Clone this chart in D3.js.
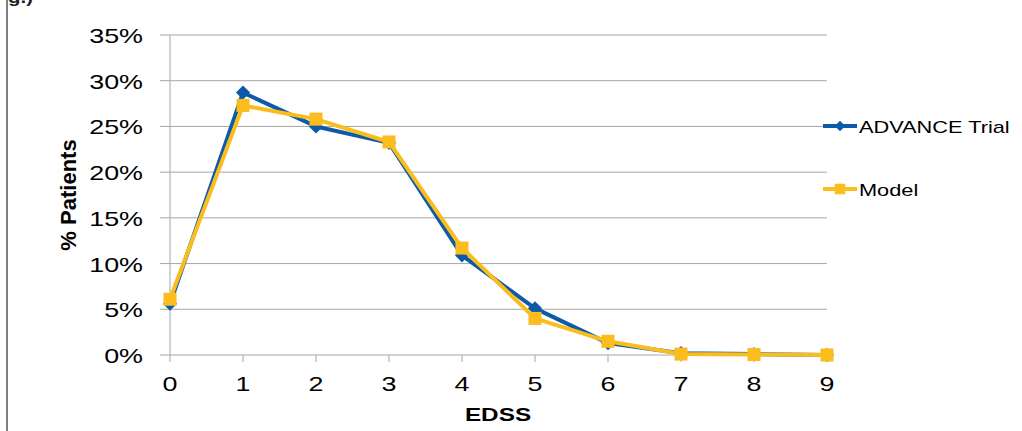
<!DOCTYPE html>
<html><head><meta charset="utf-8">
<script src="https://cdn.jsdelivr.net/npm/d3@7"></script>
<style>body{margin:0;background:#fff;}svg{display:block;font-family:"Liberation Sans",Arial,sans-serif;}</style>
</head><body>
<svg id="c" width="1022" height="431"></svg>
<script>
const categories = [0,1,2,3,4,5,6,7,8,9];
const advance = [5.6, 28.7, 25.0, 23.2, 10.9, 5.1, 1.3, 0.2, 0.1, 0.0];
const model   = [6.1, 27.3, 25.8, 23.3, 11.7, 4.0, 1.5, 0.1, 0.05, 0.0];
const yTicks = [0,5,10,15,20,25,30,35];
const seriesNames = ["ADVANCE Trial","Model"];
const colors = ["#0c5ba9","#fbbd1e"];

const SX = 1.28; // horizontal stretch of the original image text
const svg = d3.select("#c");
const x = d3.scaleLinear().domain([0,9]).range([170,827]);
const y = d3.scaleLinear().domain([0,35]).range([355,35]);

function stext(g, tx, ty, str, size, anchor, weight){
  return g.append("text").attr("transform",`translate(${tx},${ty}) scale(${SX},1)`)
    .attr("text-anchor",anchor).attr("font-size",size).attr("font-weight",weight||"normal").attr("fill","#000").text(str);
}

// left border line
svg.append("line").attr("x1",7).attr("x2",7).attr("y1",0).attr("y2",431).attr("stroke","#555").attr("stroke-width",1.5);
stext(svg, 8, 3, "g.)", 16, "start", "bold").attr("fill","#222");

// gridlines
svg.append("g").selectAll("line").data(yTicks).join("line")
  .attr("x1",160).attr("x2",827).attr("y1",d=>y(d)).attr("y2",d=>y(d))
  .attr("stroke","#a6a6a6").attr("stroke-width",1);
svg.append("line").attr("x1",170).attr("x2",170).attr("y1",y(35)).attr("y2",y(0)).attr("stroke","#a6a6a6");
svg.append("g").selectAll("line").data(categories).join("line")
  .attr("x1",d=>x(d)).attr("x2",d=>x(d)).attr("y1",355).attr("y2",362).attr("stroke","#a6a6a6");

// y labels
const gy = svg.append("g");
yTicks.forEach(d=>stext(gy, 143, y(d)+8, d+"%", 21, "end"));
// x labels
const gx = svg.append("g");
categories.forEach(d=>stext(gx, x(d), 391, String(d), 21, "middle"));

stext(svg, 498, 421, "EDSS", 19, "middle", "bold");
svg.append("text").attr("transform","translate(76,195) rotate(-90)").attr("text-anchor","middle").attr("font-size",22).attr("font-weight","bold").text("% Patients");

const line = d3.line().x((d,i)=>x(categories[i])).y(d=>y(d));
const data = [advance, model];
const diamondPath = s => d3.symbol().type(d3.symbolSquare).size(s)();

data.forEach((vals,k)=>{
  svg.append("path").attr("d",line(vals)).attr("fill","none").attr("stroke",colors[k]).attr("stroke-width",4).attr("stroke-linejoin","round");
  svg.append("g").selectAll("path").data(vals).join("path")
    .attr("transform",(d,i)=>`translate(${x(categories[i])},${y(d)})` + (k===0?" rotate(45)":""))
    .attr("d", k===0 ? diamondPath(100) : diamondPath(170)).attr("fill",colors[k]);
});

// legend
const legY = [126,189];
seriesNames.forEach((n,k)=>{
  const g = svg.append("g");
  g.append("line").attr("x1",823).attr("x2",857).attr("y1",legY[k]).attr("y2",legY[k]).attr("stroke",colors[k]).attr("stroke-width",4);
  g.append("path").attr("transform",`translate(840,${legY[k]})` + (k===0?" rotate(45)":""))
    .attr("d", k===0 ? diamondPath(55) : diamondPath(110)).attr("fill",colors[k]);
  stext(g, 859, legY[k]+7, n, 17, "start");
});
</script>
</body></html>
